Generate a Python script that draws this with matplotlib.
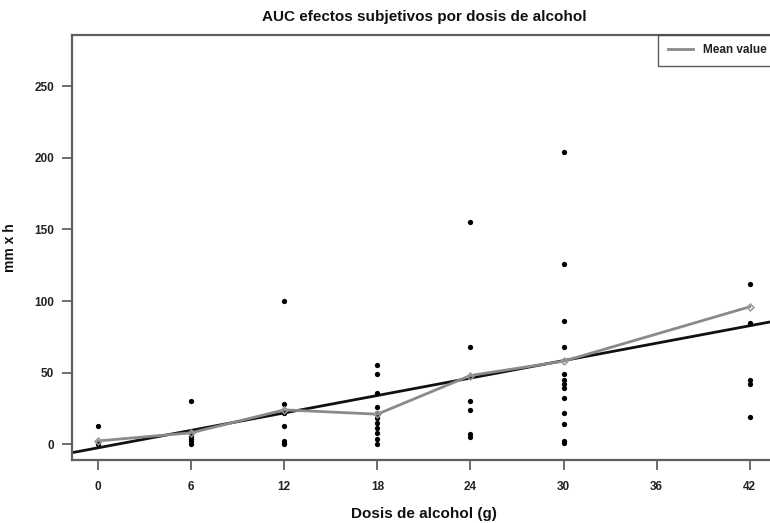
import matplotlib
matplotlib.use("Agg")
import matplotlib.pyplot as plt
from matplotlib.lines import Line2D

plt.rcParams['font.family'] = ['Liberation Sans', 'DejaVu Sans']

# ---- data ----
doses = [0, 6, 12, 18, 24, 30, 42]
auc_0 = [13, 1, 0]
auc_6 = [30, 6, 4, 2, 0]
auc_12 = [100, 28, 22, 13, 2, 1, 0]
auc_18 = [55, 49, 36, 26, 22, 18, 15, 11, 8, 4, 0]
auc_24 = [155, 68, 30, 24, 7, 5]
auc_30 = [204, 126, 86, 68, 49, 45, 42, 39, 32, 22, 14, 2, 1]
auc_42 = [112, 85, 45, 42, 19]
mean_values = [2.3, 8, 24, 21, 48, 58, 96]
reg_intercept = -2.5
reg_slope = 2.03
x_ticks = [0, 6, 12, 18, 24, 30, 36, 42]
y_ticks = [0, 50, 100, 150, 200, 250]

groups = [auc_0, auc_6, auc_12, auc_18, auc_24, auc_30, auc_42]

fig = plt.figure(figsize=(7.7, 5.23), dpi=100)
ax = fig.add_axes([0.0935, 0.1205, 0.914, 0.813])

for d, vals in zip(doses, groups):
    ax.plot([d] * len(vals), vals, 'o', color='black', markersize=3.8,
            markeredgewidth=0, zorder=3)

ax.set_xlim(-1.68, 43.68)
ax.set_ylim(-11, 286)

ax.axline((0, reg_intercept), slope=reg_slope, color='#111111', lw=2.0, zorder=2)
ax.plot(doses, mean_values, '-', color='#8a8a8a', lw=2.0, zorder=4)
ax.plot(doses, mean_values, 'D', color='#9a9a9a', markersize=3.5,
        markerfacecolor='none', markeredgewidth=1.1, zorder=5)

ax.set_xticks(x_ticks)
ax.set_yticks(y_ticks)
ax.set_xticklabels([str(t) for t in x_ticks], fontsize=8.5, fontweight='bold',
                   color='#222222')
ax.set_yticklabels([str(t) for t in y_ticks], fontsize=8.5, fontweight='bold',
                   color='#222222')
ax.tick_params(axis='both', direction='out', length=7, width=1.2, color='#555555')
ax.tick_params(axis='x', pad=8)
ax.tick_params(axis='y', pad=6)
for s in ax.spines.values():
    s.set_color('#606060')
    s.set_linewidth(1.6)

ax.set_title('AUC efectos subjetivos por dosis de alcohol', fontsize=11,
             fontweight='bold', pad=10, color='#111111')
ax.set_xlabel('Dosis de alcohol (g)', fontsize=11, fontweight='bold', labelpad=10,
              color='#111111')
ax.set_ylabel('mm x h', fontsize=10, fontweight='bold', labelpad=12, color='#111111')

handle = Line2D([0], [0], color='#8a8a8a', lw=2)
leg = ax.legend([handle], ['Mean value'], loc='upper right', fontsize=8.5,
                frameon=True, fancybox=False, borderaxespad=0,
                handlelength=2.1, borderpad=0.8, handletextpad=0.85)
leg.get_frame().set_edgecolor('#333333')
leg.get_frame().set_linewidth(1.0)
for t in leg.get_texts():
    t.set_fontweight('bold')
    t.set_color('#222222')

fig.savefig('out.png', dpi=100)
